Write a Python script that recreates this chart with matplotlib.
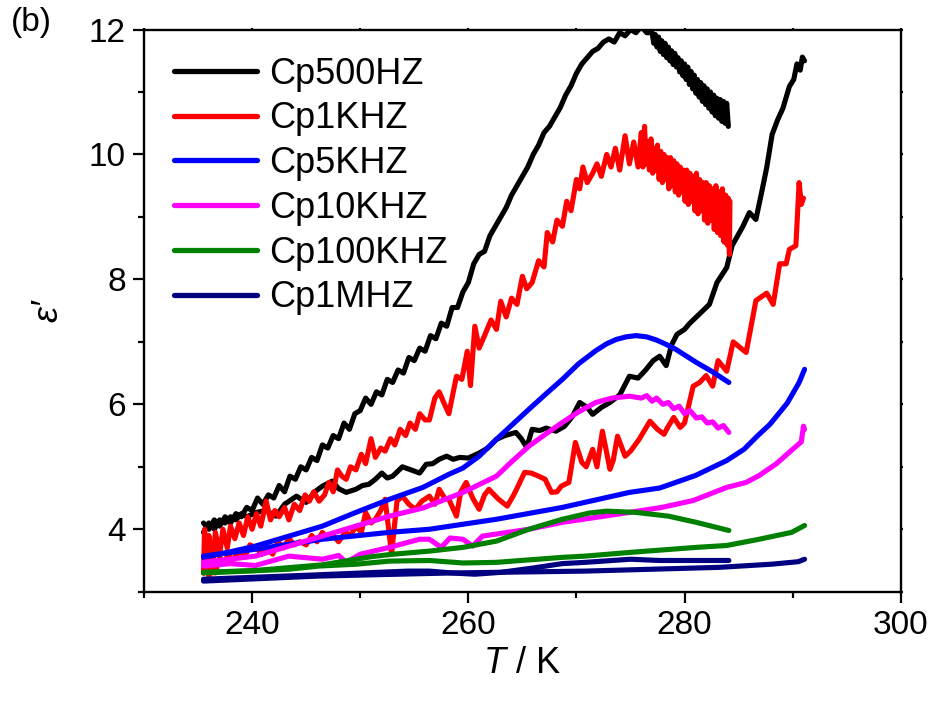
import matplotlib
matplotlib.use("Agg")
import matplotlib.pyplot as plt
from matplotlib.ticker import MultipleLocator

plt.rcParams['font.family'] = ['Liberation Sans', 'DejaVu Sans']
plt.rcParams['mathtext.fontset'] = 'custom'
plt.rcParams['mathtext.rm'] = 'Liberation Sans'
plt.rcParams['mathtext.it'] = 'Liberation Sans:italic'

# ---------------- data ----------------
labels = ["Cp500HZ", "Cp1KHZ", "Cp5KHZ", "Cp10KHZ", "Cp100KHZ", "Cp1MHZ"]
colors = ["#000000", "#FF0000", "#0000FF", "#FF00FF", "#008000", "#000080"]

# 500 Hz, run with maximum (ends at 284 K)
T_500_a = [235.5, 236.0, 236.5, 237.0, 237.5, 238.0, 238.5, 239.0, 239.5, 240.0,
           240.5, 241.0, 241.5, 242.0, 242.5, 243.0, 243.5, 244.0, 244.5, 245.0,
           245.5, 246.0, 246.5, 247.0, 247.5, 248.0, 248.5, 249.0, 249.5, 250.0,
           250.5, 251.0, 251.5, 252.0, 252.5, 253.0, 253.5, 254.0, 254.5, 255.0,
           255.5, 256.0, 256.5, 257.0, 257.5, 258.0, 258.5, 259.0, 259.5, 260.0,
           260.5, 261.0, 261.5, 262.0, 262.5, 263.0, 263.5, 264.0, 264.5, 265.0,
           265.5, 266.0, 266.5, 267.0, 267.5, 268.0, 268.5, 269.0, 269.5, 270.0,
           270.5, 271.0, 271.5, 272.0, 272.5, 273.0, 273.5, 274.0, 274.5, 275.0,
           275.5, 276.0, 276.5,
           277.0, 277.15, 277.3, 277.45, 277.6, 277.75, 277.9, 278.05, 278.2, 278.35,
           278.5, 278.65, 278.8, 278.95, 279.1, 279.25, 279.4, 279.55, 279.7, 279.85,
           280.0, 280.15, 280.3, 280.45, 280.6, 280.75, 280.9, 281.05, 281.2, 281.35,
           281.5, 281.65, 281.8, 281.95, 282.1, 282.25, 282.4, 282.55, 282.7, 282.85,
           283.0, 283.15, 283.3, 283.45, 283.6, 283.75, 283.9, 284.05]
E_500_a = [4.10, 4.00, 4.15, 4.05, 4.20, 4.10, 4.25, 4.20, 4.35, 4.30,
           4.50, 4.40, 4.55, 4.50, 4.70, 4.60, 4.85, 4.80, 5.00, 4.95,
           5.15, 5.10, 5.35, 5.30, 5.50, 5.45, 5.70, 5.60, 5.85, 5.90,
           6.10, 6.00, 6.20, 6.15, 6.40, 6.35, 6.55, 6.50, 6.75, 6.70,
           6.90, 6.85, 7.10, 7.05, 7.30, 7.25, 7.55, 7.55, 7.80, 7.95,
           8.25, 8.40, 8.45, 8.70, 8.85, 9.00, 9.15, 9.35, 9.50, 9.65,
           9.80, 10.00, 10.15, 10.35, 10.45, 10.60, 10.75, 10.95, 11.10, 11.30,
           11.45, 11.55, 11.65, 11.70, 11.80, 11.85, 11.80, 11.95, 11.90, 12.00,
           11.95, 12.05, 11.95,
           11.95, 11.78, 11.92, 11.72, 11.88, 11.65, 11.82, 11.60, 11.78, 11.55,
           11.72, 11.50, 11.66, 11.44, 11.62, 11.40, 11.55, 11.32, 11.50, 11.26,
           11.45, 11.20, 11.40, 11.12, 11.33, 11.05, 11.27, 10.98, 11.20, 10.92,
           11.15, 10.85, 11.10, 10.80, 11.05, 10.74, 11.00, 10.68, 10.95, 10.62,
           10.90, 10.58, 10.88, 10.53, 10.85, 10.50, 10.82, 10.45]

# 500 Hz, second run (ends at 291 K)
T_500_b = [235.5, 236.0, 236.5, 237.0, 237.5, 238.0, 238.5, 239.0, 239.5, 240.4,
           241.3, 242.2, 243.0, 244.1, 245.0, 245.8, 246.5, 247.4, 248.0, 248.7,
           249.6, 250.2, 250.8, 251.4, 252.0, 252.5, 253.0, 253.9, 254.7, 255.5,
           256.1, 256.7, 257.3, 258.0, 258.6, 259.2, 260.0, 261.0, 261.8, 262.6,
           263.4, 264.4, 264.9, 265.4, 265.9, 266.6, 267.2, 268.1, 268.9, 269.6,
           270.3, 271.0, 271.5, 272.3, 273.1, 274.0, 274.9, 275.7, 276.4, 277.1,
           277.7, 278.3, 278.8, 279.3, 280.0, 280.5, 281.4, 282.3, 283.0, 283.9,
           284.4, 285.4, 286.0, 286.6, 287.2, 287.6, 288.1, 288.6, 289.1, 289.7,
           290.1, 290.4, 290.7, 290.9, 291.1]
E_500_b = [3.95, 4.10, 4.00, 4.15, 4.10, 4.20, 4.15, 4.25, 4.20, 4.27,
           4.30, 4.21, 4.40, 4.53, 4.43, 4.60, 4.69, 4.77, 4.65, 4.59,
           4.64, 4.70, 4.72, 4.80, 4.90, 4.82, 4.85, 5.00, 4.95, 4.90,
           5.04, 5.05, 5.12, 5.17, 5.12, 5.15, 5.14, 5.22, 5.30, 5.44,
           5.50, 5.55, 5.45, 5.31, 5.60, 5.58, 5.62, 5.57, 5.65, 5.80,
           6.03, 5.95, 5.84, 5.95, 6.03, 6.15, 6.45, 6.42, 6.55, 6.70,
           6.77, 6.62, 6.95, 7.12, 7.20, 7.30, 7.45, 7.60, 7.95, 8.19,
           8.54, 8.85, 9.07, 8.96, 9.45, 9.79, 10.32, 10.55, 10.74, 11.09,
           11.20, 11.45, 11.35, 11.56, 11.50]

# 1 kHz, run with maximum
T_1k_a = [235.5, 235.6, 235.8, 236.0, 236.3, 236.6, 237.0, 237.3, 237.7, 238.0,
          238.4, 238.8, 239.2, 239.6, 240.0, 240.4, 240.8, 241.3, 241.7, 242.1,
          242.5, 243.0, 243.4, 243.9, 244.4, 244.9, 245.3, 245.7, 246.2, 246.7,
          247.1, 247.5, 247.9, 248.3, 248.7, 249.1, 249.6, 250.1, 250.5, 251.0,
          251.4, 251.9, 252.3, 252.8, 253.2, 253.7, 254.2, 254.6, 255.1, 255.5,
          256.0, 256.4, 256.9, 257.3, 257.8, 258.2, 258.9, 259.4, 259.9, 260.2,
          260.6, 261.0, 261.5, 262.1, 262.6, 263.0, 263.5, 264.0, 264.5, 265.0,
          265.4, 265.9, 266.5, 267.0, 267.3, 267.8, 268.2, 268.7, 269.1, 269.5,
          270.0, 270.3, 270.6, 271.0, 271.5, 271.9, 272.3, 272.8, 273.2, 273.6,
          274.0, 274.5, 274.9, 275.3, 275.7,
          276.0, 276.15, 276.3, 276.45, 276.6, 276.75, 276.9, 277.05, 277.2, 277.35,
          277.5, 277.65, 277.8, 277.95, 278.1, 278.25, 278.4, 278.55, 278.7, 278.85,
          279.0, 279.15, 279.3, 279.45, 279.6, 279.75, 279.9, 280.05, 280.2, 280.35,
          280.5, 280.65, 280.8, 280.95, 281.1, 281.25, 281.4, 281.55, 281.7, 281.85,
          282.0, 282.15, 282.3, 282.45, 282.6, 282.75, 282.9, 283.05, 283.2, 283.35,
          283.5, 283.65, 283.8, 283.95, 284.05, 284.15, 284.2]
E_1k_a = [3.30, 4.00, 3.40, 3.90, 3.30, 3.95, 3.60, 4.00, 3.70, 4.05,
          3.85, 4.10, 3.90, 4.20, 4.00, 4.25, 4.05, 4.45, 4.15, 4.30,
          4.20, 4.35, 4.15, 4.40, 4.30, 4.55, 4.45, 4.60, 4.45, 4.55,
          4.75, 4.60, 4.95, 4.85, 4.80, 5.00, 4.95, 5.20, 5.05, 5.45,
          5.15, 5.30, 5.25, 5.45, 5.35, 5.60, 5.50, 5.70, 5.60, 5.85,
          5.75, 5.75, 6.10, 6.20, 6.00, 5.85, 6.45, 6.40, 6.85, 6.30,
          7.25, 6.90, 7.10, 7.35, 7.20, 7.65, 7.40, 7.70, 7.60, 8.05,
          7.85, 7.95, 8.30, 8.20, 8.75, 8.60, 8.95, 8.85, 9.25, 9.10,
          9.60, 9.45, 9.80, 9.55, 9.70, 9.85, 9.65, 10.00, 9.80, 10.10,
          9.75, 10.30, 9.85, 10.20, 9.80,
          10.35, 9.80, 10.45, 9.85, 10.20, 9.75, 10.25, 9.70, 10.10, 9.75,
          10.15, 9.60, 10.05, 9.55, 10.00, 9.60, 9.95, 9.45, 9.95, 9.50,
          9.90, 9.40, 9.85, 9.35, 9.80, 9.40, 9.75, 9.25, 9.75, 9.20,
          9.70, 9.25, 9.65, 9.10, 9.70, 9.05, 9.60, 9.10, 9.55, 8.95,
          9.55, 8.90, 9.50, 8.95, 9.45, 8.80, 9.50, 8.75, 9.40, 8.70,
          9.45, 8.60, 9.35, 8.55, 9.30, 8.40, 9.25]

# 1 kHz, second run
T_1k_b = [235.5, 235.7, 236.0, 236.3, 236.6, 237.0, 237.4, 237.8, 238.2, 238.8,
          239.3, 239.8, 240.4, 240.9, 241.4, 241.9, 242.4, 242.9, 243.4, 243.9,
          244.4, 245.0, 245.5, 246.0, 246.5, 247.0, 247.5, 248.0, 248.6, 249.1,
          249.6, 250.1, 250.5, 251.0, 251.4, 251.9, 252.3, 252.9, 253.4, 253.9,
          254.5, 255.1, 255.7, 256.4, 256.9, 257.3, 257.8, 258.2, 258.9, 259.3,
          259.8, 260.4, 261.0, 261.5, 261.9, 262.4, 262.8, 263.6, 264.2, 264.6,
          265.2, 265.8, 266.5, 267.1, 267.7, 268.2, 268.6, 269.3, 269.9, 270.5,
          270.9, 271.5, 271.9, 272.4, 273.1, 273.4, 273.8, 274.5, 275.0, 275.8,
          276.8, 277.5, 278.1, 278.5, 279.0, 279.6, 280.0, 280.8, 281.4, 282.0,
          282.6, 283.1, 283.9, 284.5, 285.7, 286.6, 287.6, 288.2, 288.8, 289.4,
          289.7, 290.3, 290.6, 290.8, 291.0]
E_1k_b = [3.30, 3.55, 3.25, 3.50, 3.30, 3.55, 3.45, 3.60, 3.50, 3.65,
          3.55, 3.75, 3.70, 3.60, 3.70, 3.60, 3.80, 3.70, 3.85, 3.75,
          3.80, 3.75, 3.90, 3.80, 3.95, 3.85, 3.90, 3.80, 3.95, 3.90,
          4.05, 3.95, 4.27, 4.10, 4.16, 4.30, 4.48, 3.60, 4.45, 4.53,
          4.40, 4.32, 4.45, 4.53, 4.40, 4.64, 4.50, 4.48, 4.21, 4.60,
          4.75, 4.50, 4.32, 4.55, 4.64, 4.55, 4.48, 4.37, 4.55, 4.69,
          4.91, 4.90, 4.85, 4.80, 4.59, 4.60, 4.69, 4.75, 5.39, 5.07,
          5.00, 5.28, 5.00, 5.57, 4.96, 5.10, 5.49, 5.17, 5.25, 5.44,
          5.73, 5.60, 5.52, 5.65, 5.79, 5.63, 5.70, 6.29, 6.35, 6.46,
          6.29, 6.70, 6.53, 7.00, 6.83, 7.66, 7.78, 7.60, 8.25, 8.25,
          8.48, 8.54, 9.55, 9.20, 9.30]

# 5 kHz
T_5k_a = [235.5, 238.0, 240.3, 243.4, 246.5, 249.6, 252.7, 255.8, 258.2, 259.5,
          261.0, 262.6, 264.1, 265.6, 267.2, 268.7, 270.2, 271.8, 272.8, 273.7,
          274.6, 275.5, 276.5, 277.4, 278.3, 279.2, 280.1, 281.1, 282.5, 284.1]
E_5k_a = [3.55, 3.64, 3.73, 3.89, 4.05, 4.27, 4.48, 4.67, 4.88, 4.98,
          5.17, 5.44, 5.68, 5.92, 6.17, 6.40, 6.65, 6.86, 6.97, 7.04,
          7.08, 7.10, 7.08, 7.03, 6.96, 6.88, 6.78, 6.67, 6.53, 6.35]
T_5k_b = [235.5, 240.3, 246.5, 252.7, 256.4, 262.6, 268.7, 274.9, 277.7, 281.0,
          283.9, 285.5, 286.9, 287.9, 288.8, 289.5, 290.0, 290.6, 291.1]
E_5k_b = [3.57, 3.68, 3.84, 3.95, 4.00, 4.16, 4.35, 4.59, 4.66, 4.86,
          5.10, 5.28, 5.52, 5.68, 5.87, 6.02, 6.17, 6.35, 6.56]

# 10 kHz
T_10k_a = [235.5, 240.3, 243.4, 246.5, 249.6, 252.7, 255.8, 259.5, 262.6, 264.0,
           265.6, 267.2, 268.7, 270.2, 271.8, 273.3, 274.9, 276.0, 276.5, 277.0,
           277.4, 278.0, 278.5, 279.0, 279.5, 280.0, 280.5, 281.1, 281.6, 282.1,
           282.6, 283.1, 283.6, 284.1]
E_10k_a = [3.47, 3.57, 3.73, 3.89, 4.05, 4.21, 4.34, 4.59, 4.85, 5.08,
           5.33, 5.53, 5.71, 5.88, 6.03, 6.10, 6.13, 6.10, 6.14, 6.05,
           6.10, 6.00, 6.03, 5.93, 5.97, 5.85, 5.90, 5.78, 5.80, 5.70,
           5.72, 5.62, 5.66, 5.55]
T_10k_b = [235.5, 238.0, 240.3, 243.4, 246.5, 248.0, 248.7, 250.0, 252.7, 254.4,
           255.5, 256.4, 257.5, 258.3, 259.5, 260.4, 261.3, 265.6, 268.7, 271.8,
           274.9, 277.9, 280.8, 283.9, 285.7, 286.9, 288.5, 290.0, 290.8, 291.0,
           291.1]
E_10k_b = [3.41, 3.45, 3.42, 3.57, 3.52, 3.58, 3.47, 3.60, 3.71, 3.79,
           3.84, 3.84, 3.71, 3.86, 3.84, 3.73, 3.89, 4.00, 4.11, 4.19,
           4.27, 4.35, 4.46, 4.67, 4.75, 4.86, 5.05, 5.28, 5.40, 5.65,
           5.60]

# 100 kHz
T_100k_a = [235.5, 240.3, 246.5, 251.0, 253.0, 256.4, 259.5, 262.6, 265.6, 268.7,
            271.2, 272.8, 275.5, 278.5, 281.1, 284.1]
E_100k_a = [3.31, 3.34, 3.43, 3.56, 3.60, 3.65, 3.71, 3.81, 4.00, 4.16,
            4.26, 4.29, 4.27, 4.21, 4.11, 3.98]
T_100k_b = [235.5, 243.4, 246.1, 249.6, 252.7, 256.4, 259.5, 262.6, 268.7, 270.8,
            275.0, 281.1, 283.9, 286.9, 289.9, 291.1]
E_100k_b = [3.30, 3.36, 3.41, 3.44, 3.49, 3.50, 3.46, 3.47, 3.55, 3.57,
            3.63, 3.71, 3.74, 3.84, 3.95, 4.06]

# 1 MHz
T_1M_a = [235.5, 246.0, 254.4, 256.4, 258.5, 260.6, 263.0, 266.0, 268.7, 270.8,
          275.0, 277.7, 284.1]
E_1M_a = [3.20, 3.27, 3.33, 3.33, 3.30, 3.28, 3.31, 3.38, 3.45, 3.47,
          3.52, 3.50, 3.50]
T_1M_b = [235.5, 246.1, 258.4, 270.8, 283.2, 288.0, 290.5, 291.1]
E_1M_b = [3.17, 3.25, 3.30, 3.33, 3.39, 3.44, 3.48, 3.52]

runs = [
    (T_500_a, E_500_a, T_500_b, E_500_b),
    (T_1k_a, E_1k_a, T_1k_b, E_1k_b),
    (T_5k_a, E_5k_a, T_5k_b, E_5k_b),
    (T_10k_a, E_10k_a, T_10k_b, E_10k_b),
    (T_100k_a, E_100k_a, T_100k_b, E_100k_b),
    (T_1M_a, E_1M_a, T_1M_b, E_1M_b),
]

# ---------------- figure ----------------
fig = plt.figure(figsize=(9.34, 7.04), dpi=100)
ax = fig.add_axes([0.1542, 0.1595, 0.8102, 0.7985])

lw = 3.7
for (ta, ea, tb, eb), lab, col in zip(runs, labels, colors):
    ax.plot(ta, ea, color=col, lw=lw, label=lab, solid_joinstyle='round',
            solid_capstyle='round')
    ax.plot(tb, eb, color=col, lw=lw, solid_joinstyle='round',
            solid_capstyle='round')

ax.set_xlim(230, 300)
ax.set_ylim(3.0, 12.0)
ax.xaxis.set_minor_locator(MultipleLocator(10))
ax.yaxis.set_minor_locator(MultipleLocator(1))
ax.set_xticks([240, 260, 280, 300])
ax.set_yticks([4, 6, 8, 10, 12])

for s in ax.spines.values():
    s.set_linewidth(1.7)

ax.tick_params(axis='both', which='major', direction='out', length=8, width=1.6,
               labelsize=24, pad=5)
ax.tick_params(axis='both', which='minor', direction='out', length=4, width=1.6)
ax.tick_params(axis='both', which='both', top=True, right=True,
               labeltop=False, labelright=False)
# very short ticks on top/right
for t in ax.xaxis.get_major_ticks() + ax.xaxis.get_minor_ticks():
    t.tick2line.set_markersize(1.5)
for t in ax.yaxis.get_major_ticks() + ax.yaxis.get_minor_ticks():
    t.tick2line.set_markersize(1.5)

ax.set_xlabel(r'$T$ / K', fontsize=26, labelpad=4)
ax.set_ylabel('ε′', fontsize=26, fontstyle='italic', labelpad=17)

fig.text(0.012, 0.968, '(b)', fontsize=24, ha='left', va='center')

leg = ax.legend(loc='upper left', bbox_to_anchor=(0.04, 0.952), frameon=False,
                fontsize=26, handlelength=2.3, handletextpad=0.33,
                labelspacing=0.27, borderpad=0, borderaxespad=0)
for h in leg.get_lines():
    h.set_linewidth(3.8)

fig.savefig('out.png', dpi=100)
